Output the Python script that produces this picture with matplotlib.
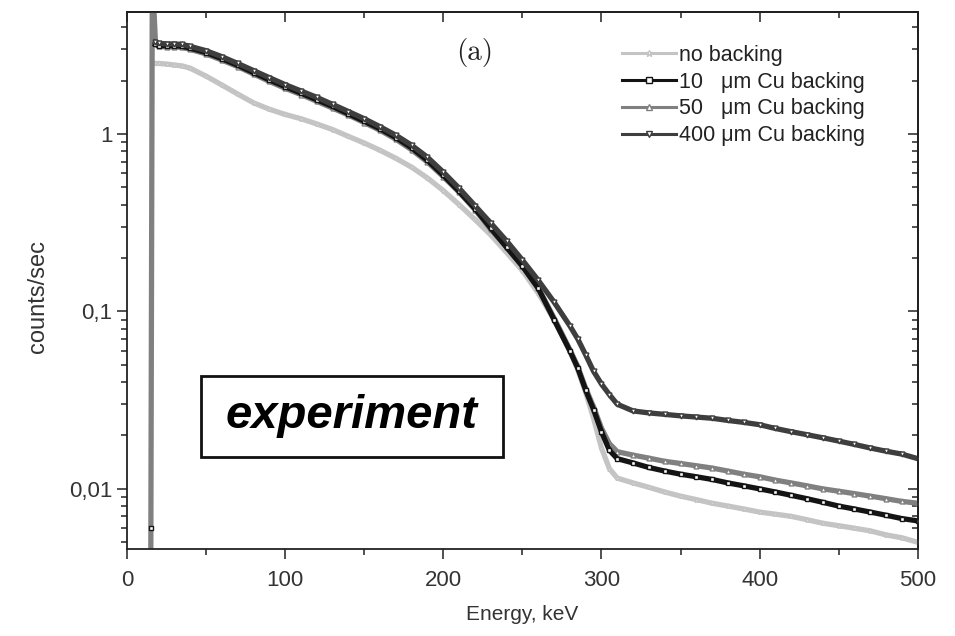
import matplotlib
matplotlib.use("Agg")
import matplotlib.pyplot as plt
from matplotlib.ticker import FixedLocator, FuncFormatter, NullFormatter, LogLocator
from matplotlib.patches import Rectangle

plt.rcParams['font.family'] = ['Liberation Sans', 'DejaVu Sans']

nan = float('nan')

# Energy grid (keV)
energy = [15, 16, 18, 20, 25, 30, 35, 40, 50, 60, 70, 80, 90, 100, 110, 120, 130,
          140, 150, 160, 170, 180, 190, 200, 210, 220, 230, 240, 250, 260, 270,
          280, 285, 290, 295, 300, 305, 310, 320, 330, 340, 350, 360, 370, 380,
          390, 400, 410, 420, 430, 440, 450, 460, 470, 480, 490, 500]

# Count rates (counts/sec)
no_backing = [nan, nan, 2.5, 2.5, 2.48, 2.45, 2.42, 2.35, 2.12, 1.89, 1.68, 1.5,
              1.38, 1.29, 1.22, 1.14, 1.06, 0.97, 0.89, 0.81, 0.73, 0.65, 0.565,
              0.48, 0.40, 0.33, 0.27, 0.215, 0.17, 0.127, 0.09, 0.06, 0.047,
              0.035, 0.025, 0.017, 0.013, 0.0115, 0.0108, 0.0102, 0.0096, 0.0091,
              0.0087, 0.0083, 0.0080, 0.0077, 0.0074, 0.0072, 0.0070, 0.0067,
              0.0064, 0.0062, 0.0060, 0.0058, 0.0055, 0.0053, 0.0050]

cu_10um = [0.006, nan, 3.2, 3.15, 3.15, 3.15, 3.12, 3.05, 2.88, 2.66, 2.44, 2.22,
           2.02, 1.85, 1.7, 1.56, 1.43, 1.3, 1.18, 1.07, 0.955, 0.835, 0.71,
           0.585, 0.475, 0.38, 0.295, 0.23, 0.18, 0.135, 0.09, 0.06, 0.048,
           0.036, 0.028, 0.021, 0.0165, 0.0148, 0.014, 0.0132, 0.0126, 0.0121,
           0.0117, 0.0113, 0.0108, 0.0104, 0.0100, 0.0096, 0.0092, 0.0088,
           0.0084, 0.0080, 0.0077, 0.0074, 0.0071, 0.0068, 0.0066]

cu_50um = [0.003, 8.0, 3.25, 3.12, 3.1, 3.1, 3.08, 3.0, 2.83, 2.61, 2.4, 2.18,
           1.98, 1.81, 1.67, 1.53, 1.4, 1.28, 1.16, 1.05, 0.935, 0.815, 0.695,
           0.575, 0.47, 0.375, 0.29, 0.23, 0.18, 0.136, 0.092, 0.061, 0.049,
           0.037, 0.029, 0.022, 0.018, 0.0162, 0.0155, 0.0149, 0.0143, 0.0139,
           0.0135, 0.0131, 0.0126, 0.0121, 0.0117, 0.0112, 0.0108, 0.0104,
           0.0100, 0.0097, 0.0094, 0.0091, 0.0088, 0.0085, 0.0083]

cu_400um = [nan, nan, 3.3, 3.25, 3.22, 3.22, 3.2, 3.12, 2.95, 2.73, 2.5, 2.28,
            2.08, 1.9, 1.75, 1.61, 1.47, 1.34, 1.22, 1.1, 0.985, 0.865, 0.74,
            0.61, 0.495, 0.395, 0.315, 0.25, 0.195, 0.15, 0.113, 0.083, 0.07,
            0.057, 0.046, 0.039, 0.034, 0.030, 0.0275, 0.0268, 0.0263, 0.0258,
            0.0254, 0.0250, 0.0243, 0.0237, 0.0230, 0.0219, 0.0210, 0.0202,
            0.0194, 0.0186, 0.0178, 0.0170, 0.0163, 0.0157, 0.0148]

labels = ["no backing", "10   \u03bcm Cu backing", "50   \u03bcm Cu backing",
          "400 \u03bcm Cu backing"]
x_ticks = [0, 100, 200, 300, 400, 500]
x_minor = [50, 150, 250, 350, 450]
y_ticks = [0.01, 0.1, 1]
y_tick_labels = ["0,01", "0,1", "1"]

fig = plt.figure(figsize=(9.55, 6.36), dpi=100)
ax = fig.add_axes([0.133, 0.137, 0.828, 0.844])

ink = '#222222'
# (values, colour, marker, legend position)
styles = [
    (no_backing, '#c4c4c4', '*', 0),
    (cu_50um, '#808080', '^', 2),
    (cu_10um, '#141414', 's', 1),
    (cu_400um, '#3e3e3e', 'v', 3),
]
handles = [None] * 4
for data, color, marker, idx in styles:
    ln, = ax.plot(energy, data, color=color, lw=3.8, marker=marker, ms=3.5,
                  mfc='white', mec=color, mew=1.0, label=labels[idx])
    handles[idx] = ln

ax.set_yscale('log')
ax.set_xlim(0, 500)
ax.set_ylim(0.00459, 4.87)

ax.xaxis.set_major_locator(FixedLocator(x_ticks))
ax.xaxis.set_minor_locator(FixedLocator(x_minor))
ax.yaxis.set_major_locator(FixedLocator(y_ticks))
ax.yaxis.set_major_formatter(FuncFormatter(
    lambda v, p: dict(zip(y_ticks, y_tick_labels)).get(v, "")))
ax.yaxis.set_minor_locator(LogLocator(base=10, subs=range(2, 10)))
ax.yaxis.set_minor_formatter(NullFormatter())

ax.tick_params(which='both', direction='out', colors=ink, labelcolor='#333333',
               labelsize=16, width=1.1)
ax.tick_params(which='major', length=7)
ax.tick_params(which='minor', length=4)
ax.tick_params(axis='x', pad=8)

for sp in ax.spines.values():
    sp.set_linewidth(1.3)
    sp.set_color(ink)

# mirrored ticks on top and right, pointing inward
top = ax.secondary_xaxis('top')
top.xaxis.set_major_locator(FixedLocator(x_ticks))
top.xaxis.set_minor_locator(FixedLocator(x_minor))
top.tick_params(which='both', direction='in', labeltop=False, colors=ink, width=1.1)
top.tick_params(which='major', length=7)
top.tick_params(which='minor', length=4)
top.spines['top'].set_linewidth(1.3)

right = ax.secondary_yaxis('right')
right.set_yscale('log')
right.yaxis.set_major_locator(FixedLocator(y_ticks))
right.yaxis.set_minor_locator(LogLocator(base=10, subs=range(2, 10)))
right.yaxis.set_minor_formatter(NullFormatter())
right.tick_params(which='both', direction='in', labelright=False, colors=ink, width=1.1)
right.tick_params(which='major', length=7)
right.tick_params(which='minor', length=4)
right.spines['right'].set_linewidth(1.3)

ax.set_xlabel("Energy, keV", fontsize=15, color='#333333', labelpad=10)
ax.set_ylabel("counts/sec", fontsize=17, color='#333333')
ax.yaxis.set_label_coords(-0.099, 0.47)

leg = ax.legend(handles=handles, loc='upper left', bbox_to_anchor=(0.626, 0.939),
                frameon=False, fontsize=15.5, handlelength=2.5, handletextpad=0.15,
                labelspacing=0.27, borderpad=0, borderaxespad=0, numpoints=1,
                labelcolor='#222222')
for h in leg.legend_handles:
    h.set_linewidth(2.2)
    h.set_markersize(5)

ax.text(0.440, 0.925, "(a)", transform=ax.transAxes, ha='center', va='center',
        fontsize=21, family=['cmr10'], color='#222222')

ax.add_patch(Rectangle((0.093, 0.172), 0.382, 0.150, transform=ax.transAxes,
                       fill=False, lw=2.0, ec='#111111', zorder=5))
ax.text(0.284, 0.247, "experiment", transform=ax.transAxes, ha='center', va='center',
        fontsize=34, fontweight='bold', fontstyle='italic', color='black', zorder=6)

fig.savefig("out.png", dpi=100)
